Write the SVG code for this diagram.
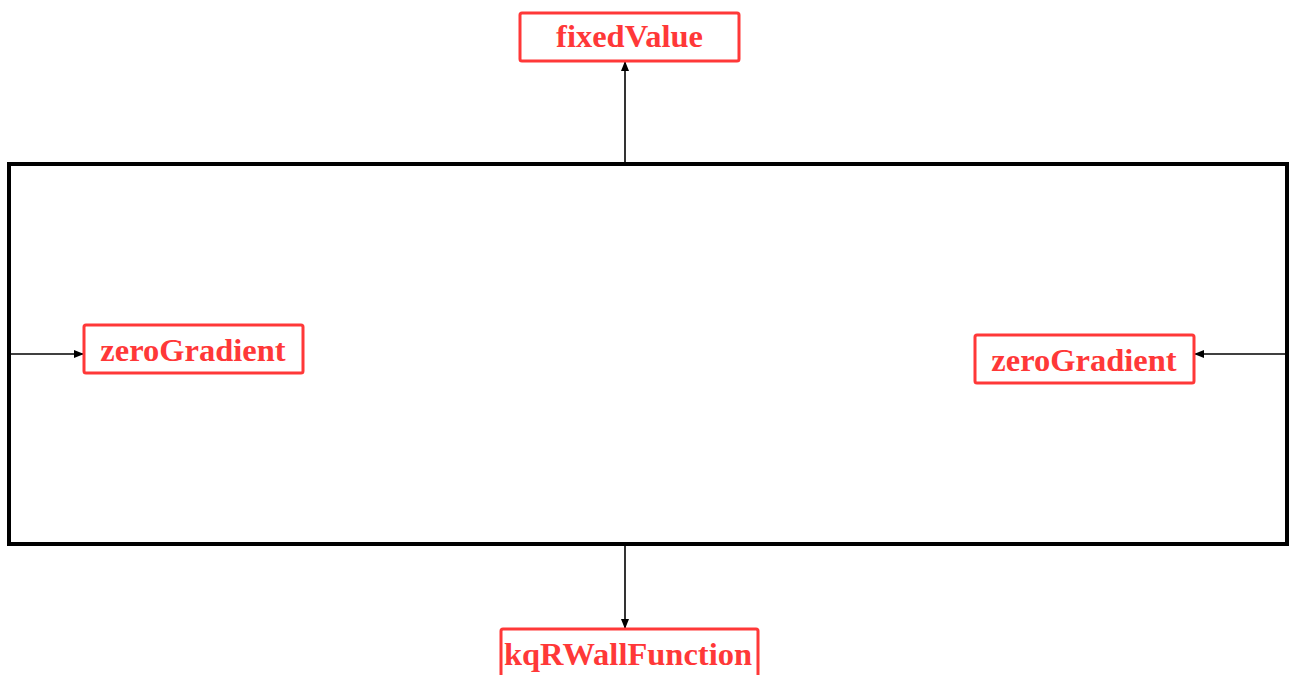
<svg xmlns="http://www.w3.org/2000/svg" width="1296" height="675" viewBox="0 0 1296 675">
<defs>
<style>
.box{fill:#fff;stroke:#ff3838;stroke-width:3}
.lbl{font-family:"Liberation Serif",serif;font-weight:bold;font-size:32.5px;fill:#ff3838;text-anchor:middle}
.edge{stroke:#000;stroke-width:1.6;fill:none;marker-end:url(#ah)}
</style>
<marker id="ah" markerWidth="10" markerHeight="8" refX="9" refY="4" orient="auto" markerUnits="userSpaceOnUse">
<path d="M0,0 L10,4 L0,8 Z" fill="#000"/>
</marker>
</defs>
<rect width="1296" height="675" fill="#fff"/>
<g id="domain">
<rect x="9" y="164" width="1278" height="380" fill="none" stroke="#000" stroke-width="4"/>
</g>
<g id="connectors">
<line class="edge" x1="625" y1="164" x2="625" y2="62"/>
<line class="edge" x1="9" y1="354" x2="83" y2="354"/>
<line class="edge" x1="1287" y1="354" x2="1195" y2="354"/>
<line class="edge" x1="625" y1="544" x2="625" y2="628"/>
</g>
<g id="top">
<rect class="box" x="520" y="13" width="219" height="48" rx="2"/>
<text class="lbl" x="629.5" y="47">fixedValue</text>
</g>
<g id="left">
<rect class="box" x="84" y="325" width="219" height="48" rx="2"/>
<text class="lbl" x="193" y="361">zeroGradient</text>
</g>
<g id="right">
<rect class="box" x="975" y="335" width="219" height="48" rx="2"/>
<text class="lbl" x="1084" y="371">zeroGradient</text>
</g>
<g id="bottom">
<rect class="box" x="501" y="629" width="257" height="50" rx="2"/>
<text class="lbl" x="628" y="665">kqRWallFunction</text>
</g>
</svg>
